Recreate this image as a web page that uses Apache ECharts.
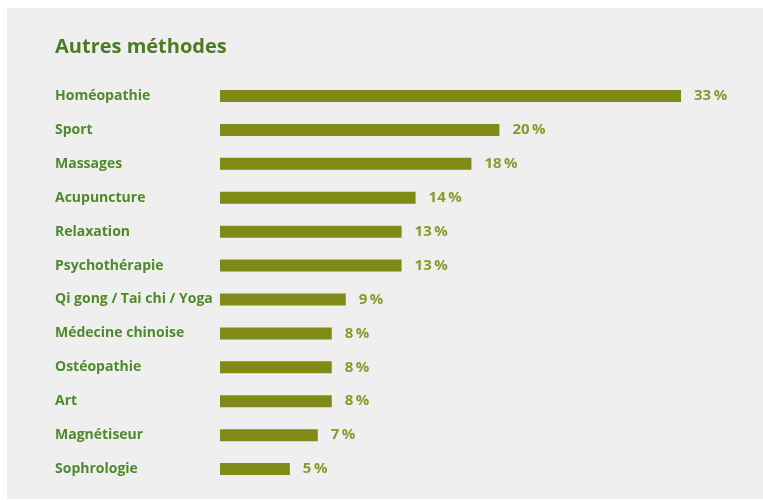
<!DOCTYPE html>
<html><head><meta charset="utf-8">
<script src="https://cdn.jsdelivr.net/npm/echarts@6/dist/echarts.min.js"></script>
<style>html,body{margin:0;padding:0;background:#fff}#c{width:763px;height:500px}</style>
</head><body><div id="c"></div>
<script>
const categories = ["Homéopathie","Sport","Massages","Acupuncture","Relaxation","Psychothérapie","Qi gong / Tai chi / Yoga","Médecine chinoise","Ostéopathie","Art","Magnétiseur","Sophrologie"];
const values = [33,20,18,14,13,13,9,8,8,8,7,5];
const titleText = "Autres méthodes";
const FONT = "'Open Sans', sans-serif";
const chart = echarts.init(document.getElementById('c'));
chart.setOption({
  backgroundColor: '#ffffff',
  animation: false,
  graphic: [{type:'rect', z:-10, shape:{x:7,y:8,width:756,height:491}, style:{fill:'#efefef'}}],
  title: {text: titleText, left: 50, top: 32, textStyle:{fontFamily:FONT, fontSize:20, fontWeight:'bold', color:'#4a7d22'}},
  grid: {left:220, right:82, top:79, bottom:14, containLabel:false},
  xAxis: {type:'value', min:0, max:33, show:false},
  yAxis: {type:'category', data:categories, inverse:true,
    axisLine:{show:false}, axisTick:{show:false},
    axisLabel:{align:'left', margin:165, fontFamily:FONT, fontSize:14, fontWeight:'bold', color:'#4e8a2a'}},
  series: [{type:'bar', data:values, barWidth:12, itemStyle:{color:'#7f8a17'},
    label:{show:true, position:'right', distance:13, formatter: p => p.value + '\u2009%', fontFamily:FONT, fontSize:15, fontWeight:'bold', color:'#8a9a2a'}}]
});
</script></body></html>
